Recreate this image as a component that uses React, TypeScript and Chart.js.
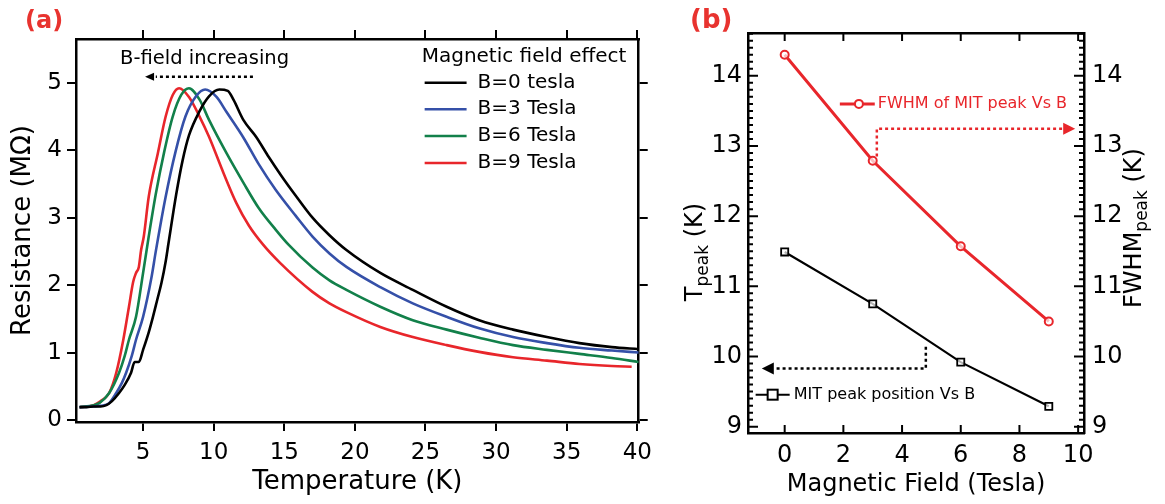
import React, { useEffect, useRef } from "react";
import { Chart, registerables } from "chart.js";

Chart.register(...registerables);

const FONT = "'DejaVu Sans', sans-serif";
const LABEL_RED = "#e8332f";
const C_BLACK = "#000000";
const C_BLUE = "#3550a8";
const C_GREEN = "#12804a";
const C_RED = "#e8262b";

// ---------- Panel (a) data ----------
const T_B0 = [0.5, 1.0, 1.5, 2.0, 2.4, 2.8, 3.3, 3.7, 4.15, 4.4, 4.7, 5.0, 5.4, 5.7, 6.0, 6.3, 6.6, 6.8, 7.35, 7.8, 8.25, 9.0, 9.67, 10.4, 11.0, 11.4, 12.1, 13.0, 13.9, 14.8, 15.8, 17.0, 18.2, 19.4, 21.8, 24.1, 26.5, 28.8, 31.2, 33.6, 35.9, 38.2, 40.1];
const R_B0 = [0.19, 0.19, 0.2, 0.2, 0.22, 0.28, 0.4, 0.52, 0.7, 0.86, 0.86, 1.04, 1.3, 1.53, 1.78, 2.03, 2.35, 2.62, 3.35, 3.85, 4.22, 4.58, 4.8, 4.9, 4.88, 4.75, 4.45, 4.2, 3.9, 3.62, 3.33, 3.0, 2.74, 2.52, 2.18, 1.93, 1.68, 1.48, 1.34, 1.23, 1.14, 1.08, 1.05];

const T_B3 = [0.5, 1.5, 2.0, 2.6, 3.1, 3.5, 3.8, 4.2, 4.5, 5.0, 5.6, 5.9, 6.6, 7.3, 8.0, 8.75, 9.4, 10.2, 10.9, 12.1, 13.2, 14.4, 15.8, 17.0, 18.2, 19.4, 21.8, 24.1, 26.5, 28.8, 31.2, 33.6, 35.9, 38.2, 40.1];
const R_B3 = [0.19, 0.2, 0.21, 0.25, 0.4, 0.55, 0.7, 0.95, 1.19, 1.53, 2.12, 2.5, 3.31, 3.98, 4.5, 4.8, 4.9, 4.79, 4.57, 4.19, 3.79, 3.41, 3.03, 2.72, 2.47, 2.27, 1.97, 1.73, 1.53, 1.36, 1.23, 1.14, 1.07, 1.03, 1.0];

const T_B6 = [0.5, 1.5, 1.9, 2.6, 3.3, 3.7, 4.0, 4.5, 5.0, 5.4, 5.9, 6.5, 7.1, 7.7, 8.25, 9.0, 9.67, 10.9, 12.1, 13.2, 14.4, 15.3, 17.0, 18.2, 19.4, 21.8, 24.1, 26.5, 28.8, 31.2, 33.6, 35.9, 38.2, 40.1];
const R_B6 = [0.19, 0.22, 0.25, 0.4, 0.7, 0.95, 1.19, 1.53, 2.18, 2.72, 3.35, 3.98, 4.5, 4.82, 4.92, 4.75, 4.45, 3.96, 3.52, 3.14, 2.82, 2.6, 2.26, 2.07, 1.93, 1.68, 1.48, 1.34, 1.22, 1.11, 1.04, 0.98, 0.92, 0.86];

const T_B9 = [0.5, 1.5, 2.0, 2.6, 3.1, 3.6, 4.0, 4.3, 4.5, 4.7, 4.86, 5.05, 5.4, 6.05, 6.6, 7.1, 7.55, 8.25, 9.0, 9.67, 10.7, 11.6, 12.5, 13.5, 14.7, 17.0, 18.2, 19.4, 21.8, 24.1, 26.5, 28.8, 31.2, 33.6, 35.9, 38.2, 39.6];
const R_B9 = [0.19, 0.22, 0.28, 0.4, 0.7, 1.19, 1.68, 2.05, 2.18, 2.27, 2.52, 2.72, 3.31, 3.96, 4.5, 4.82, 4.92, 4.79, 4.5, 4.2, 3.66, 3.22, 2.88, 2.6, 2.33, 1.9, 1.73, 1.6, 1.38, 1.23, 1.11, 1.01, 0.93, 0.88, 0.83, 0.8, 0.79];

const A_LABELS = ["B=0 tesla", "B=3 Tesla", "B=6 Tesla", "B=9 Tesla"];
const A_X_TICKS = [5, 10, 15, 20, 25, 30, 35, 40];
const A_Y_TICKS = [0, 1, 2, 3, 4, 5];

// ---------- Panel (b) data ----------
const B_FIELD = [0, 3, 6, 9];
const T_PEAK = [11.49, 10.75, 9.92, 9.29];
const FWHM_PEAK = [14.3, 12.79, 11.57, 10.5];
const B_X_TICKS = [0, 2, 4, 6, 8, 10];
const B_Y_TICKS = [9, 10, 11, 12, 13, 14];

const pts = (xs: number[], ys: number[]) => xs.map((x, i) => ({ x, y: ys[i] }));

const fixedTicks = (vals: number[]) => (s: any) => {
  s.ticks = vals.map((v) => ({ value: v }));
};

function dottedArrow(ctx: CanvasRenderingContext2D, path: [number, number][], tip: [number, number], dir: "left" | "right", color: string) {
  ctx.save();
  ctx.strokeStyle = color;
  ctx.fillStyle = color;
  ctx.lineWidth = 2.5;
  ctx.setLineDash([3, 3]);
  ctx.beginPath();
  ctx.moveTo(path[0][0], path[0][1]);
  for (let i = 1; i < path.length; i++) ctx.lineTo(path[i][0], path[i][1]);
  ctx.stroke();
  ctx.setLineDash([]);
  const [tx, ty] = tip;
  const s = dir === "left" ? 1 : -1;
  ctx.beginPath();
  ctx.moveTo(tx, ty);
  ctx.lineTo(tx + s * 12, ty - 6);
  ctx.lineTo(tx + s * 12, ty + 6);
  ctx.closePath();
  ctx.fill();
  ctx.restore();
}

const annotA = {
  id: "annotA",
  afterDraw(chart: any) {
    const { ctx, scales } = chart;
    const x = scales.x, y = scales.y;
    ctx.save();
    ctx.fillStyle = LABEL_RED;
    ctx.font = `bold 24px ${FONT}`;
    ctx.textBaseline = "middle";
    ctx.textAlign = "left";
    ctx.fillText("(a)", 25, 22);

    ctx.fillStyle = "#000";
    ctx.font = `19.5px ${FONT}`;
    ctx.fillText("B-field increasing", x.getPixelForValue(3.37), y.getPixelForValue(5.36));
    ctx.restore();

    const ay = y.getPixelForValue(5.09);
    ctx.save();
    ctx.strokeStyle = "#000";
    ctx.lineWidth = 2.5;
    ctx.setLineDash([3, 3]);
    ctx.beginPath();
    ctx.moveTo(x.getPixelForValue(12.78), ay);
    ctx.lineTo(x.getPixelForValue(5.9), ay);
    ctx.stroke();
    ctx.setLineDash([]);
    ctx.fillStyle = "#000";
    const tx = x.getPixelForValue(5.14);
    ctx.beginPath();
    ctx.moveTo(tx, ay);
    ctx.lineTo(tx + 9, ay - 4);
    ctx.lineTo(tx + 9, ay + 4);
    ctx.closePath();
    ctx.fill();
    ctx.restore();

    // legend
    ctx.save();
    ctx.fillStyle = "#000";
    ctx.font = `20px ${FONT}`;
    ctx.textBaseline = "middle";
    ctx.textAlign = "left";
    ctx.fillText("Magnetic field effect", x.getPixelForValue(24.73), y.getPixelForValue(5.386));
    const rows = [5.0, 4.61, 4.21, 3.81];
    chart.data.datasets.forEach((ds: any, i: number) => {
      const py = y.getPixelForValue(rows[i]);
      ctx.strokeStyle = ds.borderColor;
      ctx.lineWidth = 2.5;
      ctx.beginPath();
      ctx.moveTo(x.getPixelForValue(24.94), py);
      ctx.lineTo(x.getPixelForValue(27.91), py);
      ctx.stroke();
      ctx.fillText(ds.label, x.getPixelForValue(28.69), py);
    });
    ctx.restore();
  },
};

function vTitle(ctx: CanvasRenderingContext2D, cx: number, cy: number, main: string, sub: string, tail: string) {
  ctx.save();
  ctx.translate(cx, cy);
  ctx.rotate(-Math.PI / 2);
  ctx.fillStyle = "#000";
  ctx.textBaseline = "alphabetic";
  ctx.textAlign = "left";
  const fMain = `24px ${FONT}`;
  const fSub = `17px ${FONT}`;
  ctx.font = fMain;
  const w1 = ctx.measureText(main).width;
  const w3 = ctx.measureText(tail).width;
  ctx.font = fSub;
  const w2 = ctx.measureText(sub).width;
  let sx = -(w1 + w2 + w3) / 2;
  ctx.font = fMain;
  ctx.fillText(main, sx, 0);
  sx += w1;
  ctx.font = fSub;
  ctx.fillText(sub, sx, 6);
  sx += w2;
  ctx.font = fMain;
  ctx.fillText(tail, sx, 0);
  ctx.restore();
}

const annotB = {
  id: "annotB",
  afterDraw(chart: any) {
    const { ctx, scales, chartArea } = chart;
    const x = scales.x, y = scales.y, y2 = scales.y2;
    const { left, right, top, bottom } = chartArea;

    // inward ticks
    ctx.save();
    ctx.strokeStyle = "#000";
    ctx.lineWidth = 2;
    ctx.beginPath();
    B_X_TICKS.forEach((v) => {
      const px = x.getPixelForValue(v);
      ctx.moveTo(px, bottom);
      ctx.lineTo(px, bottom - 8);
      ctx.moveTo(px, top);
      ctx.lineTo(px, top + 8);
    });
    const minorStep = 0.1;
    for (let k = Math.ceil(y.min / minorStep); k * minorStep <= y.max; k++) {
      const v = k * minorStep;
      const major = k % 10 === 0;
      const len = major ? 10 : 5;
      const py = y.getPixelForValue(v);
      ctx.moveTo(left, py);
      ctx.lineTo(left + len, py);
      const py2 = y2.getPixelForValue(v);
      ctx.moveTo(right, py2);
      ctx.lineTo(right - len, py2);
    }
    ctx.stroke();
    ctx.restore();

    // panel label
    ctx.save();
    ctx.fillStyle = LABEL_RED;
    ctx.font = `bold 26px ${FONT}`;
    ctx.textBaseline = "middle";
    ctx.textAlign = "left";
    ctx.fillText("(b)", 30, 21);
    ctx.restore();

    // axis titles
    vTitle(ctx, 42, 252, "T", "peak", " (K)");
    vTitle(ctx, 481, 228, "FWHM", "peak", " (K)");

    // red legend + arrow
    const red = chart.data.datasets[1];
    const blk = chart.data.datasets[0];
    ctx.save();
    let ly = y2.getPixelForValue(13.6);
    ctx.strokeStyle = red.borderColor;
    ctx.lineWidth = 3;
    ctx.beginPath();
    ctx.moveTo(x.getPixelForValue(1.88), ly);
    ctx.lineTo(x.getPixelForValue(3.07), ly);
    ctx.stroke();
    ctx.fillStyle = "#fff";
    ctx.lineWidth = 2;
    ctx.beginPath();
    ctx.arc(x.getPixelForValue(2.53), ly, 4, 0, Math.PI * 2);
    ctx.fill();
    ctx.stroke();
    ctx.fillStyle = red.borderColor;
    ctx.font = `16px ${FONT}`;
    ctx.textBaseline = "middle";
    ctx.textAlign = "left";
    ctx.fillText(red.label, x.getPixelForValue(3.17), ly);
    ctx.restore();
    dottedArrow(
      ctx,
      [
        [x.getPixelForValue(3.14), y2.getPixelForValue(12.85)],
        [x.getPixelForValue(3.14), y2.getPixelForValue(13.245)],
        [x.getPixelForValue(9.5), y2.getPixelForValue(13.245)],
      ],
      [x.getPixelForValue(9.9), y2.getPixelForValue(13.245)],
      "right",
      red.borderColor
    );

    // black legend + arrow
    ctx.save();
    ly = y.getPixelForValue(9.456);
    ctx.strokeStyle = blk.borderColor;
    ctx.lineWidth = 2;
    ctx.beginPath();
    ctx.moveTo(x.getPixelForValue(-0.99), ly);
    ctx.lineTo(x.getPixelForValue(0.17), ly);
    ctx.stroke();
    ctx.fillStyle = "#fff";
    const sq = x.getPixelForValue(-0.41);
    ctx.fillRect(sq - 5, ly - 5, 10, 10);
    ctx.strokeRect(sq - 5, ly - 5, 10, 10);
    ctx.fillStyle = "#000";
    ctx.font = `16px ${FONT}`;
    ctx.textBaseline = "middle";
    ctx.textAlign = "left";
    ctx.fillText(blk.label, x.getPixelForValue(0.31), ly);
    ctx.restore();
    dottedArrow(
      ctx,
      [
        [x.getPixelForValue(4.81), y.getPixelForValue(10.14)],
        [x.getPixelForValue(4.81), y.getPixelForValue(9.83)],
        [x.getPixelForValue(-0.35), y.getPixelForValue(9.83)],
      ],
      [x.getPixelForValue(-0.78), y.getPixelForValue(9.83)],
      "left",
      "#000"
    );
  },
};

const axisCommon = {
  grid: { drawOnChartArea: false, drawTicks: true, tickLength: 9, color: "#000", lineWidth: 2 },
  border: { display: true, color: "#000", width: 2.5 },
};

export default function App() {
  const refA = useRef<HTMLCanvasElement>(null);
  const refB = useRef<HTMLCanvasElement>(null);

  useEffect(() => {
    const tickFontA = { family: FONT, size: 23 };
    const series = [
      { label: A_LABELS[0], data: pts(T_B0, R_B0), color: C_BLACK },
      { label: A_LABELS[1], data: pts(T_B3, R_B3), color: C_BLUE },
      { label: A_LABELS[2], data: pts(T_B6, R_B6), color: C_GREEN },
      { label: A_LABELS[3], data: pts(T_B9, R_B9), color: C_RED },
    ];
    const chartA = new Chart(refA.current as HTMLCanvasElement, {
      type: "scatter",
      data: {
        datasets: series.map((s) => ({
          label: s.label,
          data: s.data,
          showLine: true,
          borderColor: s.color,
          backgroundColor: s.color,
          borderWidth: 2.6,
          pointRadius: 0,
          cubicInterpolationMode: "monotone",
        })),
      },
      options: {
        responsive: false,
        animation: false,
        devicePixelRatio: 1,
        layout: { padding: 0 },
        plugins: { legend: { display: false }, tooltip: { enabled: false } },
        scales: {
          x: {
            type: "linear",
            position: "bottom",
            min: 0.25,
            max: 40.1,
            afterBuildTicks: fixedTicks(A_X_TICKS),
            afterFit: (s: any) => { s.height = 82; },
            ticks: { font: tickFontA, color: "#000", padding: 8, maxRotation: 0, autoSkip: false },
            title: { display: true, text: "Temperature (K)", color: "#000", font: { family: FONT, size: 26 }, padding: { top: 0, bottom: 6 } },
            ...axisCommon,
          },
          x2: {
            type: "linear",
            position: "top",
            min: 0.25,
            max: 40.1,
            afterBuildTicks: fixedTicks(A_X_TICKS),
            afterFit: (s: any) => { s.height = 39; },
            ticks: { display: false },
            ...axisCommon,
          },
          y: {
            type: "linear",
            position: "left",
            min: -0.03,
            max: 5.65,
            afterBuildTicks: fixedTicks(A_Y_TICKS),
            afterFit: (s: any) => { s.width = 76; },
            ticks: { font: tickFontA, color: "#000", padding: 5 },
            title: { display: true, text: "Resistance (MΩ)", color: "#000", font: { family: FONT, size: 26 }, padding: { top: 8, bottom: 0 } },
            ...axisCommon,
          },
          y2: {
            type: "linear",
            position: "right",
            min: -0.03,
            max: 5.65,
            afterBuildTicks: fixedTicks(A_Y_TICKS),
            afterFit: (s: any) => { s.width = 20; },
            ticks: { display: false },
            ...axisCommon,
          },
        },
      } as any,
      plugins: [annotA],
    });

    const tickFontB = { family: FONT, size: 24 };
    const axisB = {
      grid: { drawOnChartArea: false, drawTicks: false },
      border: { display: true, color: "#000", width: 2.5 },
    };
    const chartB = new Chart(refB.current as HTMLCanvasElement, {
      type: "scatter",
      data: {
        datasets: [
          {
            label: "MIT peak position Vs B",
            data: pts(B_FIELD, T_PEAK),
            yAxisID: "y",
            showLine: true,
            borderColor: "#000",
            borderWidth: 2.2,
            pointStyle: "rect",
            pointRadius: 5,
            pointBorderWidth: 1.8,
            pointBorderColor: "#000",
            pointBackgroundColor: "rgba(255,255,255,0.7)",
          },
          {
            label: "FWHM of MIT peak Vs B",
            data: pts(B_FIELD, FWHM_PEAK),
            yAxisID: "y2",
            showLine: true,
            borderColor: C_RED,
            borderWidth: 3,
            pointStyle: "circle",
            pointRadius: 4,
            pointBorderWidth: 2,
            pointBorderColor: C_RED,
            pointBackgroundColor: "rgba(255,255,255,0.7)",
          },
        ],
      },
      options: {
        responsive: false,
        animation: false,
        devicePixelRatio: 1,
        layout: { padding: 0 },
        plugins: { legend: { display: false }, tooltip: { enabled: false } },
        scales: {
          x: {
            type: "linear",
            position: "bottom",
            min: -1.25,
            max: 10.2,
            afterBuildTicks: fixedTicks(B_X_TICKS),
            afterFit: (s: any) => { s.height = 71; },
            ticks: { font: tickFontB, color: "#000", padding: 8, maxRotation: 0, autoSkip: false },
            title: { display: true, text: "Magnetic Field (Tesla)", color: "#000", font: { family: FONT, size: 24 }, padding: { top: 0, bottom: 5 } },
            ...axisB,
          },
          x2: {
            type: "linear",
            position: "top",
            min: -1.25,
            max: 10.2,
            afterBuildTicks: fixedTicks(B_X_TICKS),
            afterFit: (s: any) => { s.height = 33; },
            ticks: { display: false },
            ...axisB,
          },
          y: {
            type: "linear",
            position: "left",
            min: 8.91,
            max: 14.61,
            afterBuildTicks: fixedTicks(B_Y_TICKS),
            afterFit: (s: any) => { s.width = 88; },
            ticks: { font: tickFontB, color: "#000", padding: 6 },
            ...axisB,
          },
          y2: {
            type: "linear",
            position: "right",
            min: 8.91,
            max: 14.61,
            afterBuildTicks: fixedTicks(B_Y_TICKS),
            afterFit: (s: any) => { s.width = 81; },
            ticks: { font: tickFontB, color: "#000", padding: 8 },
            ...axisB,
          },
        },
      } as any,
      plugins: [annotB],
    });

    return () => {
      chartA.destroy();
      chartB.destroy();
    };
  }, []);

  return (
    <div style={{ position: "absolute", left: 0, top: 0, width: 1165, height: 504, background: "#fff", overflow: "hidden" }}>
      <canvas ref={refA} width={660} height={504} style={{ position: "absolute", left: 0, top: 0, width: 660, height: 504 }} />
      <canvas ref={refB} width={505} height={504} style={{ position: "absolute", left: 660, top: 0, width: 505, height: 504 }} />
    </div>
  );
}
